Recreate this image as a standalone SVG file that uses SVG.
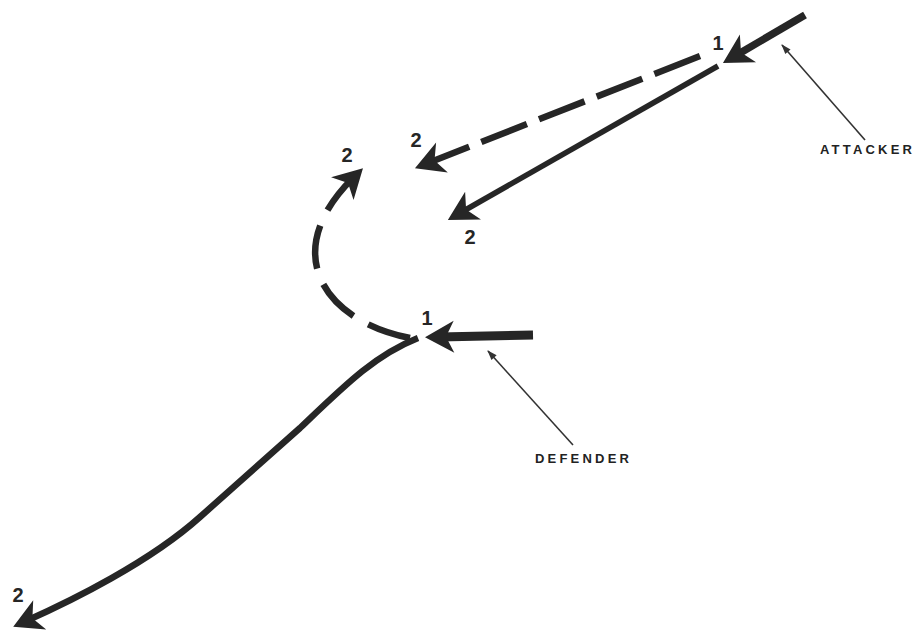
<svg xmlns="http://www.w3.org/2000/svg" width="917" height="631" viewBox="0 0 917 631">
  <defs>
    <marker id="head" markerUnits="userSpaceOnUse" orient="auto" refX="0" refY="0" markerWidth="40" markerHeight="40" overflow="visible">
      <path d="M14,0 L-15,-16 L-7,0 L-15,16 Z" fill="#262626"/>
    </marker>
    <marker id="small" markerUnits="userSpaceOnUse" orient="auto" refX="0" refY="0" markerWidth="12" markerHeight="12" overflow="visible">
      <path d="M1,0 L-9,-3.5 L-9,3.5 Z" fill="#333"/>
    </marker>
    <style>
      .path { fill: none; stroke: #262626; stroke-linecap: butt; stroke-linejoin: round; marker-end: url(#head); }
      .solid { stroke-width: 6.5; }
      .dash { stroke-width: 6.5; }
      .leader { fill: none; stroke: #333; stroke-width: 1.6; marker-end: url(#small); }
      .num { font-family: "Liberation Sans", Arial, sans-serif; font-weight: bold; font-size: 20px; fill: #262626; text-anchor: middle; }
      .lbl { font-family: "Liberation Sans", Arial, sans-serif; font-weight: bold; font-size: 13px; letter-spacing: 3.2px; fill: #222; }
    </style>
  </defs>
  <rect width="917" height="631" fill="#ffffff"/>

  <g id="connectors">
    <!-- attacker approach -->
    <path class="path solid" d="M805,15 L735,56" style="stroke-width:7.5"/>
    <!-- attacker dashed option -->
    <path class="path dash" d="M700,56 L428,163" stroke-dasharray="49 13"/>
    <!-- attacker solid option -->
    <path class="path solid" d="M718,66 L460,213" style="stroke-width:5.5"/>
    <!-- defender approach -->
    <path class="path solid" d="M533,335 L439,337" style="stroke-width:9"/>
    <!-- defender dashed arc -->
    <path class="path dash" d="M410,338 C320,320 280,250 353,178" stroke-dasharray="44 17"/>
    <!-- defender long curve -->
    <path class="path solid" d="M418,338 C375,355 345,385 300,428 L200,517 C150,562 71,601 26,621"/>
    <!-- leaders -->
    <path class="leader" d="M865,140 L782,45"/>
    <path class="leader" d="M573,445 L488,351"/>
  </g>

  <g id="attacker">
    <text class="lbl" x="820" y="154">ATTACKER</text>
  </g>
  <g id="defender">
    <text class="lbl" x="535" y="463">DEFENDER</text>
  </g>
  <g id="attacker-1"><text class="num" x="718" y="50">1</text></g>
  <g id="attacker-2-dashed"><text class="num" x="416" y="147">2</text></g>
  <g id="attacker-2-solid"><text class="num" x="470" y="244">2</text></g>
  <g id="defender-1"><text class="num" x="427" y="325">1</text></g>
  <g id="defender-2-arc"><text class="num" x="347" y="162">2</text></g>
  <g id="defender-2-long"><text class="num" x="18" y="602">2</text></g>
</svg>
